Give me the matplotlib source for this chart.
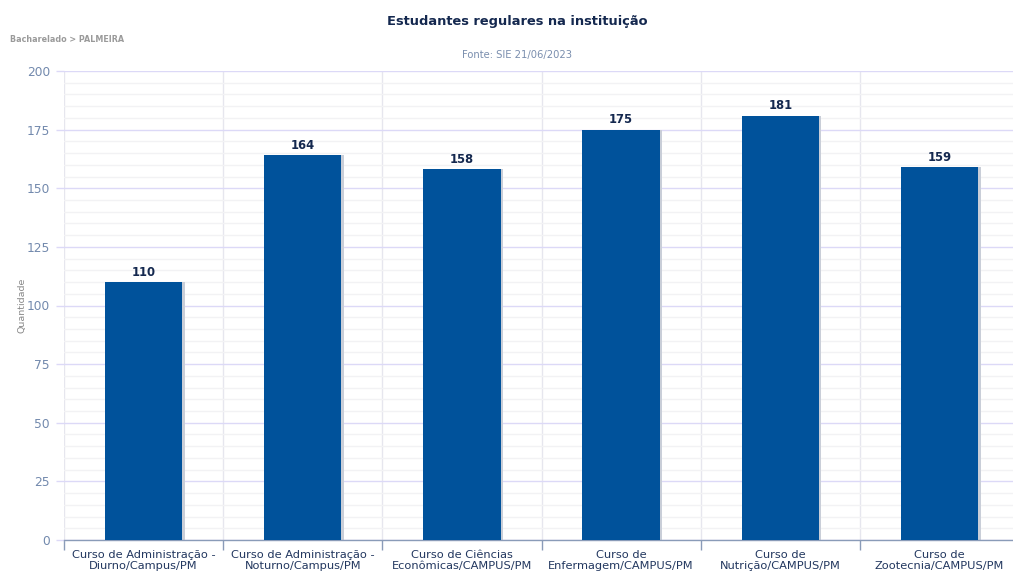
import matplotlib
matplotlib.use("Agg")
import matplotlib.pyplot as plt
import numpy as np
from matplotlib.ticker import MultipleLocator, FixedLocator

categories = [
    "Curso de Administração -\nDiurno/Campus/PM",
    "Curso de Administração -\nNoturno/Campus/PM",
    "Curso de Ciências\nEconômicas/CAMPUS/PM",
    "Curso de\nEnfermagem/CAMPUS/PM",
    "Curso de\nNutrição/CAMPUS/PM",
    "Curso de\nZootecnia/CAMPUS/PM",
]
quantidade = [110, 164, 158, 175, 181, 159]
y_ticks = [0, 25, 50, 75, 100, 125, 150, 175, 200]

plt.rcParams["font.family"] = ["DejaVu Sans"]

fig = plt.figure(figsize=(10.13, 5.76), dpi=100)
ax_w = (1019 - 64) / 1013
ax = fig.add_axes([64 / 1013, 1 - 540 / 576, ax_w, (540 - 71) / 576])

x = np.arange(len(categories))
bar_w = 0.485
bar_color = "#00529b"

# soft shadow to the right of each bar
ax.bar(x + 0.016, quantidade, width=bar_w, color="#c9ced8", zorder=2)
ax.bar(x, quantidade, width=bar_w, color=bar_color, zorder=3)

for xi, v in zip(x, quantidade):
    ax.text(xi, v + 1.4, str(v), ha="center", va="bottom", fontsize=8.4,
            fontweight="bold", color="#14284f", zorder=4)

ax.set_xlim(-0.5, len(categories) - 0.5)
ax.set_ylim(0, 200)

# grid: minor every 5, major every 25, vertical lines at category edges
ax.yaxis.set_major_locator(FixedLocator(y_ticks))
ax.yaxis.set_minor_locator(MultipleLocator(5))
ax.grid(axis="y", which="minor", color="#f2f2f4", linewidth=1.0, zorder=0)
ax.grid(axis="y", which="major", color="#dcd9f7", linewidth=1.0, zorder=1)
for b in np.arange(-0.5, len(categories) + 0.5, 1.0):
    ax.axvline(b, color="#e6e6ee", linewidth=1.0, zorder=0.5)

ax.set_xticks(x)
ax.set_xticklabels(categories, fontsize=8.2, color="#22375f", linespacing=1.2)
ax.tick_params(axis="x", length=0, pad=7)
ax.xaxis.set_minor_locator(FixedLocator(np.arange(-0.5, len(categories), 1.0)))
ax.tick_params(axis="x", which="minor", length=7, color="#8a9bb8", width=1)

ax.set_yticklabels([str(t) for t in y_ticks], fontsize=8.8, color="#7289ad")
ax.tick_params(axis="y", which="major", length=6, color="#dcd9f7", width=1, pad=4)
ax.tick_params(axis="y", which="minor", length=0)

for s in ["top", "right", "left"]:
    ax.spines[s].set_visible(False)
ax.spines["bottom"].set_color("#8a9bb8")
ax.spines["bottom"].set_linewidth(1)

ax.set_ylabel("Quantidade", fontsize=6.8, color="#888888")
ax.yaxis.set_label_coords((27 - 64) / 1013 / ax_w, 0.5)

fig.text(517 / 1013, 1 - 22 / 576, "Estudantes regulares na instituição",
         ha="center", va="center", fontsize=9.4, fontweight="bold", color="#14284f")
fig.text(10 / 1013, 1 - 40 / 576, "Bacharelado > PALMEIRA", ha="left",
         va="center", fontsize=5.8, fontweight="bold", color="#9a9a9a")
fig.text(517 / 1013, 1 - 55 / 576, "Fonte: SIE 21/06/2023", ha="center",
         va="center", fontsize=7.2, color="#7a8eae")

fig.savefig("out.png", dpi=100)
